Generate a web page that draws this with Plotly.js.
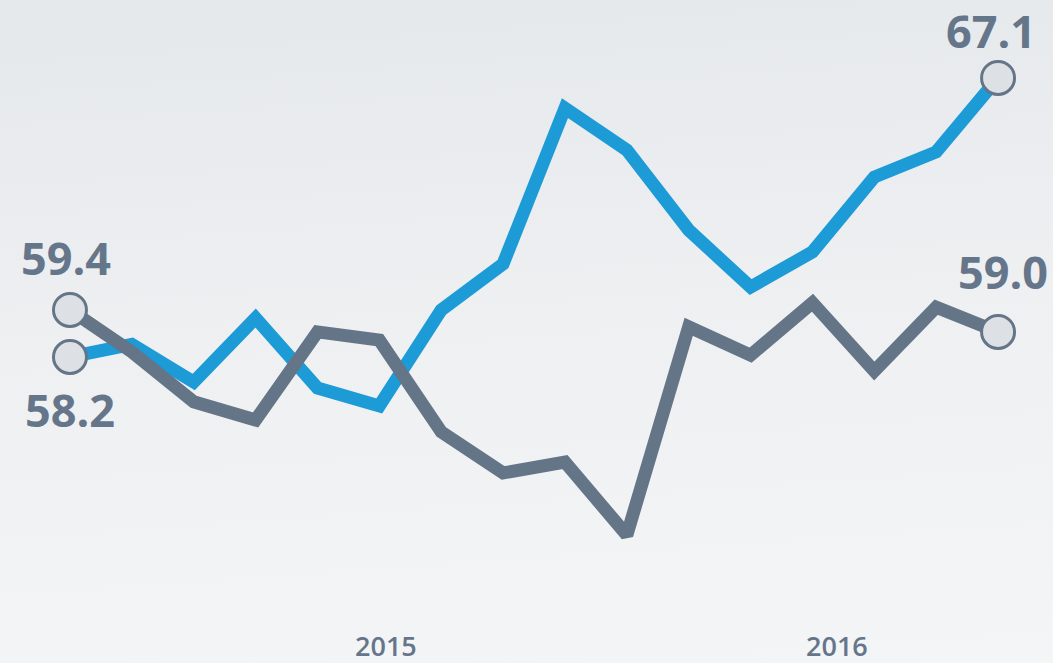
<!DOCTYPE html>
<html>
<head>
<meta charset="utf-8">
<script src="https://cdn.plot.ly/plotly-3.0.1.min.js"></script>
<style>
  html, body { margin: 0; padding: 0; width: 1053px; height: 663px; overflow: hidden; }
  body { background: linear-gradient(176deg, #e5e8eb 0%, #eef0f2 50%, #f4f5f7 100%); }
  #chart { width: 1053px; height: 663px; }
</style>
</head>
<body>
<div id="chart"></div>
<script>
// Data (16 periods)
const periods = [0,1,2,3,4,5,6,7,8,9,10,11,12,13,14,15];
const blueSeries = [58.20, 58.60, 57.40, 59.44, 57.21, 56.64, 59.70, 61.17, 66.14, 64.80, 62.25, 60.43, 61.55, 63.94, 64.74, 67.10];
const graySeries = [59.70, 58.36, 56.77, 56.19, 59.00, 58.74, 55.81, 54.50, 54.85, 52.52, 59.16, 58.26, 59.93, 57.75, 59.79, 59.00];
const blueEndLabels = ["58.2", "67.1"];
const grayEndLabels = ["59.4", "59.0"];
const yearTickPositions = [5.1, 12.4];
const yearTickLabels = ["2015", "2016"];

const BLUE = "#1d9bd7";
const GRAY = "#657588";
const MARKER_FILL = "#dde1e5";
const TEXT = "#66768a";

const last = periods.length - 1;

const traces = [
  { x: periods, y: blueSeries, mode: "lines", line: { color: BLUE, width: 13 }, hoverinfo: "skip" },
  { x: periods, y: graySeries, mode: "lines", line: { color: GRAY, width: 13 }, hoverinfo: "skip" },
  { x: [periods[0], periods[last], periods[0], periods[last]],
    y: [blueSeries[0], blueSeries[last], graySeries[0], graySeries[last]],
    mode: "markers",
    marker: { size: 33, color: MARKER_FILL, line: { color: GRAY, width: 3 } },
    hoverinfo: "skip" }
];

const labelFont = { family: "Open Sans, sans-serif", size: 45, color: TEXT, weight: 700 };
const annotations = [
  { x: periods[0], y: blueSeries[0], text: blueEndLabels[0], yshift: -53, xshift: 0 },
  { x: periods[last], y: blueSeries[last], text: blueEndLabels[1], yshift: 47, xshift: -7 },
  { x: periods[0], y: graySeries[0], text: grayEndLabels[0], yshift: 52, xshift: -4 },
  { x: periods[last], y: graySeries[last], text: grayEndLabels[1], yshift: 60, xshift: 5 }
].map(a => Object.assign({ xref: "x", yref: "y", showarrow: false, xanchor: "center", yanchor: "middle", font: labelFont }, a));

yearTickPositions.forEach((p, i) => {
  annotations.push({ x: p, y: 0.026, xref: "x", yref: "paper", text: yearTickLabels[i], showarrow: false,
    xanchor: "center", yanchor: "middle",
    font: { family: "Open Sans, sans-serif", size: 27, color: TEXT, weight: 600 } });
});

const layout = {
  width: 1053, height: 663,
  margin: { l: 0, r: 0, t: 0, b: 0 },
  paper_bgcolor: "rgba(0,0,0,0)",
  plot_bgcolor: "rgba(0,0,0,0)",
  showlegend: false,
  xaxis: { range: [-1.131, 15.888], visible: false, fixedrange: true },
  yaxis: { range: [48.439, 69.587], visible: false, fixedrange: true },
  annotations: annotations
};

Plotly.newPlot("chart", traces, layout, { staticPlot: true, displayModeBar: false });
</script>
</body>
</html>
